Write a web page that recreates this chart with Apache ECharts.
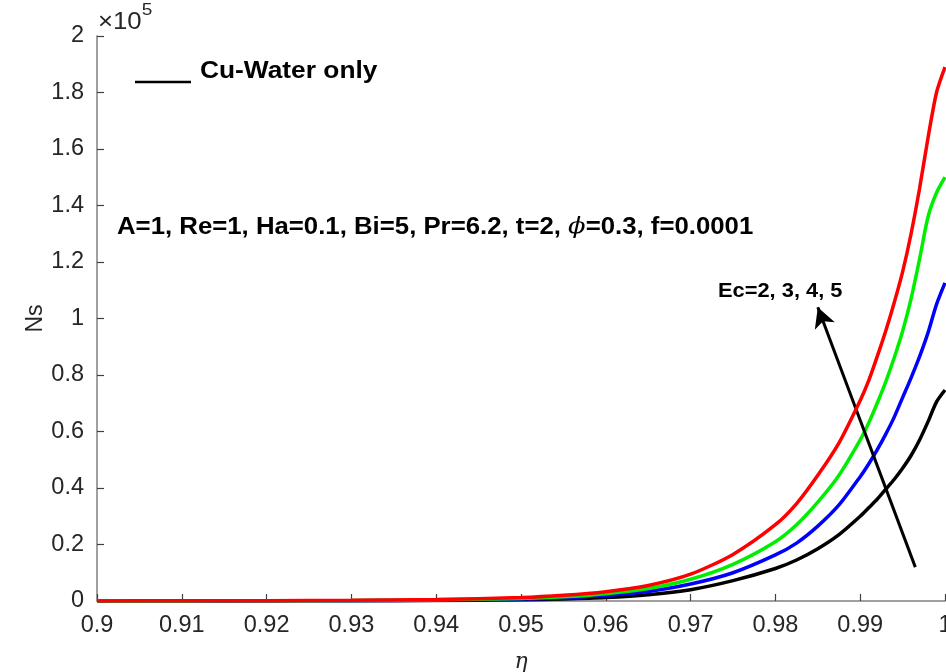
<!DOCTYPE html>
<html>
<head>
<meta charset="utf-8">
<script src="https://cdn.jsdelivr.net/npm/echarts@6/dist/echarts.min.js"></script>
<style>
  html, body { margin: 0; padding: 0; background: #fff; overflow: hidden; }
  #chart { width: 946px; height: 672px; }
</style>
</head>
<body>
<div id="chart"></div>
<script>
// eta positions where Ns was sampled
const eta = [0.90, 0.91, 0.92, 0.93, 0.94, 0.95, 0.955, 0.96, 0.965, 0.97, 0.975,
             0.98, 0.9825, 0.985, 0.9875, 0.99, 0.991, 0.992, 0.993, 0.994, 0.995,
             0.996, 0.997, 0.998, 0.999, 1.0];

// Ns (in units of 1e5) for Ec = 2, 3, 4, 5
const nsEc2 = [0.0001, 0.0002, 0.0004, 0.0008, 0.0018, 0.004, 0.007, 0.012, 0.022, 0.040, 0.072,
               0.115, 0.145, 0.185, 0.235, 0.300, 0.330, 0.360, 0.395, 0.430, 0.470,
               0.515, 0.570, 0.635, 0.705, 0.747];
const nsEc3 = [0.0001, 0.0003, 0.0006, 0.0012, 0.003, 0.007, 0.011, 0.020, 0.034, 0.060, 0.100,
               0.163, 0.205, 0.265, 0.340, 0.440, 0.485, 0.535, 0.590, 0.650, 0.720,
               0.790, 0.865, 0.950, 1.050, 1.126];
const nsEc4 = [0.0002, 0.0004, 0.0008, 0.0018, 0.004, 0.009, 0.015, 0.026, 0.044, 0.077, 0.130,
               0.210, 0.270, 0.350, 0.445, 0.570, 0.630, 0.700, 0.775, 0.860, 0.955,
               1.070, 1.210, 1.360, 1.445, 1.500];
const nsEc5 = [0.0003, 0.0006, 0.0012, 0.0025, 0.005, 0.012, 0.020, 0.033, 0.055, 0.095, 0.165,
               0.270, 0.345, 0.445, 0.560, 0.710, 0.780, 0.865, 0.955, 1.055, 1.165,
               1.300, 1.460, 1.640, 1.800, 1.890];

const xTicks = { min: 0.9, max: 1.0, step: 0.01 };
const yTicks = { min: 0, max: 2, step: 0.2 };

// arrow indicating increasing Ec (data coordinates)
const arrowTail = [0.9965, 0.12];
const arrowHead = [0.9850, 1.04];

const seriesDefs = [
  { name: 'Ec=2', values: nsEc2, color: '#000000' },
  { name: 'Ec=3', values: nsEc3, color: '#0000ff' },
  { name: 'Ec=4', values: nsEc4, color: '#00ee00' },
  { name: 'Ec=5', values: nsEc5, color: '#ff0000' }
];

const FONT = '"Liberation Sans", Arial, sans-serif';
const chart = echarts.init(document.getElementById('chart'), null, { renderer: 'canvas' });

const series = seriesDefs.map((s, i) => ({
  name: s.name,
  type: 'line',
  data: eta.map((x, k) => [x, s.values[k]]),
  showSymbol: false,
  symbol: 'none',
  smooth: 0.25,
  lineStyle: { color: s.color, width: 3.5 },
  itemStyle: { color: s.color },
  z: 2 + i,
  animation: false
}));

series[3].markLine = {
  silent: true,
  symbol: ['none', 'arrow'],
  symbolSize: [16, 20],
  label: { show: false },
  lineStyle: { color: '#000', width: 3, type: 'solid' },
  itemStyle: { color: '#000' },
  data: [[{ coord: arrowTail }, { coord: arrowHead }]],
  animation: false
};

// annotation texts are drawn slightly widened
const SX = 1.12;

chart.setOption({
  backgroundColor: '#fff',
  animation: false,
  grid: { left: 97, right: 1, top: 36, bottom: 71, containLabel: false, outerBoundsMode: 'none' },
  xAxis: {
    type: 'value',
    min: xTicks.min, max: xTicks.max, interval: xTicks.step,
    name: 'η',
    nameLocation: 'middle',
    nameGap: 50,
    nameMoveOverlap: false,
    nameTextStyle: { fontFamily: '"DejaVu Serif", serif', fontStyle: 'italic', fontSize: 22, color: '#262626' },
    axisLine: { lineStyle: { color: '#808080', width: 1.5 } },
    axisTick: { inside: true, length: 7, lineStyle: { color: '#404040', width: 1.2 } },
    axisLabel: {
      margin: 13, fontFamily: FONT, fontSize: 23.5, color: '#262626',
      formatter: v => String(parseFloat(v.toFixed(2)))
    },
    splitLine: { show: false }
  },
  yAxis: {
    type: 'value',
    min: yTicks.min, max: yTicks.max, interval: yTicks.step,
    name: 'Ns',
    nameLocation: 'middle',
    nameGap: 50,
    nameRotate: 90,
    nameMoveOverlap: false,
    nameTextStyle: { fontFamily: FONT, fontSize: 23, color: '#262626' },
    axisLine: { show: true, lineStyle: { color: '#808080', width: 1.5 } },
    axisTick: { show: true, inside: true, length: 7, lineStyle: { color: '#404040', width: 1.2 } },
    axisLabel: {
      margin: 13, fontFamily: FONT, fontSize: 23.5, color: '#262626',
      formatter: v => String(parseFloat(v.toFixed(1)))
    },
    splitLine: { show: false }
  },
  graphic: [
    {
      type: 'text', x: 98, y: 2, scaleX: SX, silent: true,
      style: {
        text: '{a|×10}{s|5}',
        rich: {
          a: { fontFamily: FONT, fontSize: 23, fill: '#262626', verticalAlign: 'bottom', lineHeight: 32 },
          s: { fontFamily: FONT, fontSize: 17, fill: '#262626', verticalAlign: 'top', lineHeight: 32, padding: [0, 0, 14, 0] }
        }
      }
    },
    {
      type: 'line', silent: true,
      shape: { x1: 135, y1: 82, x2: 191, y2: 82 },
      style: { stroke: '#000', lineWidth: 2.5 }
    },
    {
      type: 'text', x: 200, y: 60, scaleX: SX, silent: true,
      style: { text: 'Cu-Water only', fontFamily: FONT, fontWeight: 'bold', fontSize: 23.5, fill: '#000' }
    },
    {
      type: 'text', x: 117, y: 216, scaleX: SX, silent: true,
      style: {
        text: '{t|A=1, Re=1, Ha=0.1, Bi=5, Pr=6.2, t=2, }{p|ϕ}{t|=0.3, f=0.0001}',
        rich: {
          t: { fontFamily: FONT, fontWeight: 'bold', fontSize: 23, fill: '#000' },
          p: { fontFamily: '"DejaVu Serif", serif', fontStyle: 'italic', fontSize: 23, fill: '#000' }
        }
      }
    },
    {
      type: 'text', x: 718, y: 282, scaleX: SX, silent: true,
      style: { text: 'Ec=2, 3, 4, 5', fontFamily: FONT, fontWeight: 'bold', fontSize: 19.5, fill: '#000' }
    }
  ],
  series: series
});
</script>
</body>
</html>
